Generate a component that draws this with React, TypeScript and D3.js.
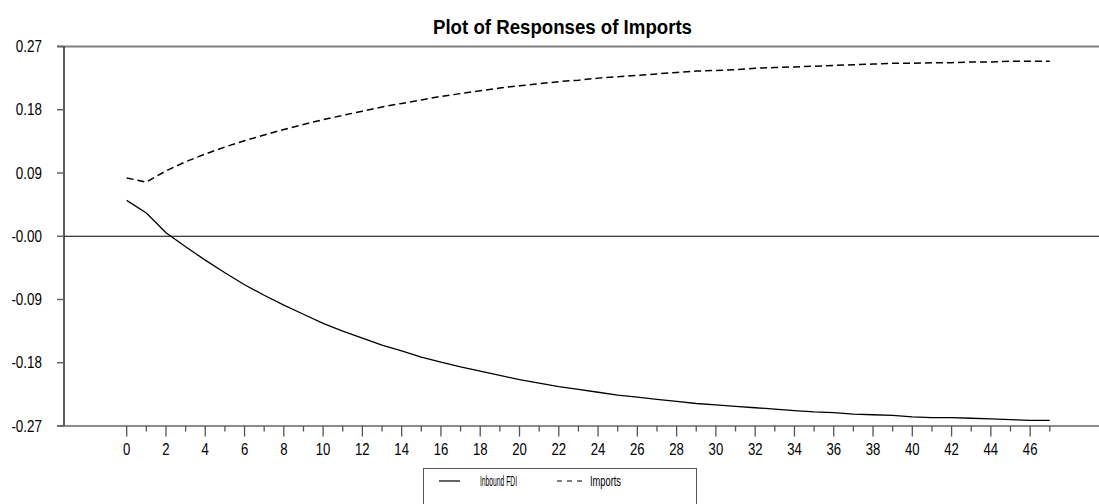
import React from "react";
import * as d3 from "d3";

// Impulse-response horizons
const periods: number[] = Array.from({ length: 48 }, (_, i) => i);

// Response of Imports to a shock in Inbound FDI
const inboundFDI: number[] = [
  0.051, 0.033, 0.005, -0.015, -0.034, -0.052, -0.069, -0.084, -0.098, -0.111,
  -0.124, -0.135, -0.145, -0.155, -0.163, -0.172, -0.179, -0.186, -0.192, -0.198,
  -0.204, -0.209, -0.214, -0.218, -0.222, -0.226, -0.229, -0.232, -0.235, -0.238,
  -0.240, -0.242, -0.244, -0.246, -0.248, -0.250, -0.251, -0.253, -0.254, -0.255,
  -0.257, -0.258, -0.258, -0.259, -0.260, -0.261, -0.262, -0.262,
];

// Response of Imports to its own shock
const imports: number[] = [
  0.083, 0.077, 0.093, 0.106, 0.117, 0.127, 0.136, 0.144, 0.152, 0.159,
  0.166, 0.172, 0.178, 0.184, 0.189, 0.194, 0.199, 0.203, 0.207, 0.211,
  0.214, 0.217, 0.220, 0.222, 0.225, 0.227, 0.229, 0.231, 0.233, 0.235,
  0.236, 0.237, 0.239, 0.240, 0.241, 0.242, 0.243, 0.244, 0.245, 0.246,
  0.246, 0.247, 0.247, 0.248, 0.248, 0.249, 0.249, 0.249,
];

const yTicks: number[] = [-0.27, -0.18, -0.09, 0, 0.09, 0.18, 0.27];
const yTickLabels: string[] = ["-0.27", "-0.18", "-0.09", "-0.00", "0.09", "0.18", "0.27"];

const seriesNames: string[] = ["Inbound FDI", "Imports"];
const title = "Plot of Responses of Imports";

const W = 1099;
const H = 504;
const left = 64;
const right = 1099;
const top = 46.5;
const bottom = 426;

const SANS = "'Liberation Sans', Arial, sans-serif";

export default function App() {
  const x = d3.scaleLinear().domain([0, 1]).range([126.7, 146.34]);
  const y = d3.scaleLinear().domain([-0.27, 0.27]).range([bottom, top]);

  const line = d3
    .line<number>()
    .x((_, i) => x(periods[i]))
    .y((d) => y(d));

  return (
    <svg
      width={W}
      height={H}
      style={{ position: "absolute", left: 0, top: 0, background: "#fff" }}
    >
      <text
        x={433}
        y={34}
        fontFamily={SANS}
        fontWeight="bold"
        fontSize={21}
        textLength={259}
        lengthAdjust="spacingAndGlyphs"
        fill="#000"
      >
        {title}
      </text>

      {/* frame: top border, left axis, bottom axis */}
      <line x1={left - 7} x2={right} y1={top} y2={top} stroke="#808080" strokeWidth={2} />
      <line x1={left} x2={left} y1={top} y2={bottom} stroke="#000" strokeWidth={1.3} />
      <line x1={left - 7} x2={right} y1={bottom} y2={bottom} stroke="#666" strokeWidth={1.5} />

      {/* zero line */}
      <line x1={left} x2={right} y1={y(0)} y2={y(0)} stroke="#000" strokeWidth={1.2} />

      {/* y ticks and labels */}
      {yTicks.map((t, i) => (
        <g key={"y" + i}>
          <line x1={left - 7} x2={left} y1={y(t)} y2={y(t)} stroke="#666" strokeWidth={1.5} />
          <text
            transform={`translate(42,${y(t) + 5.5}) scale(0.84,1)`}
            textAnchor="end"
            fontFamily={SANS}
            fontSize={16}
            fill="#000"
          >
            {yTickLabels[i]}
          </text>
        </g>
      ))}

      {/* x ticks and labels */}
      {periods.map((t) => {
        const major = t % 2 === 0;
        return (
          <g key={"x" + t}>
            <line
              x1={x(t)}
              x2={x(t)}
              y1={bottom}
              y2={bottom + (major ? 10.5 : 5.5)}
              stroke="#555"
              strokeWidth={1.3}
            />
            {major && (
              <text
                transform={`translate(${x(t)},455) scale(0.82,1)`}
                textAnchor="middle"
                fontFamily={SANS}
                fontSize={16}
                fill="#000"
              >
                {t}
              </text>
            )}
          </g>
        );
      })}

      {/* response curves */}
      <path d={line(inboundFDI) || ""} fill="none" stroke="#000" strokeWidth={1.3} />
      <path
        d={line(imports) || ""}
        fill="none"
        stroke="#000"
        strokeWidth={1.5}
        strokeDasharray="7,4"
      />

      {/* legend */}
      <rect x={423.5} y={468.5} width={273} height={50} fill="none" stroke="#555" strokeWidth={1} />
      <line x1={439} x2={460} y1={481} y2={481} stroke="#000" strokeWidth={1.2} />
      <text
        x={480}
        y={485.5}
        fontFamily={SANS}
        fontSize={14}
        textLength={37}
        lengthAdjust="spacingAndGlyphs"
        fill="#000"
      >
        {seriesNames[0]}
      </text>
      <line
        x1={557}
        x2={582}
        y1={481}
        y2={481}
        stroke="#000"
        strokeWidth={1.2}
        strokeDasharray="5,5"
      />
      <text
        x={590}
        y={485.5}
        fontFamily={SANS}
        fontSize={14}
        textLength={31}
        lengthAdjust="spacingAndGlyphs"
        fill="#000"
      >
        {seriesNames[1]}
      </text>
    </svg>
  );
}
